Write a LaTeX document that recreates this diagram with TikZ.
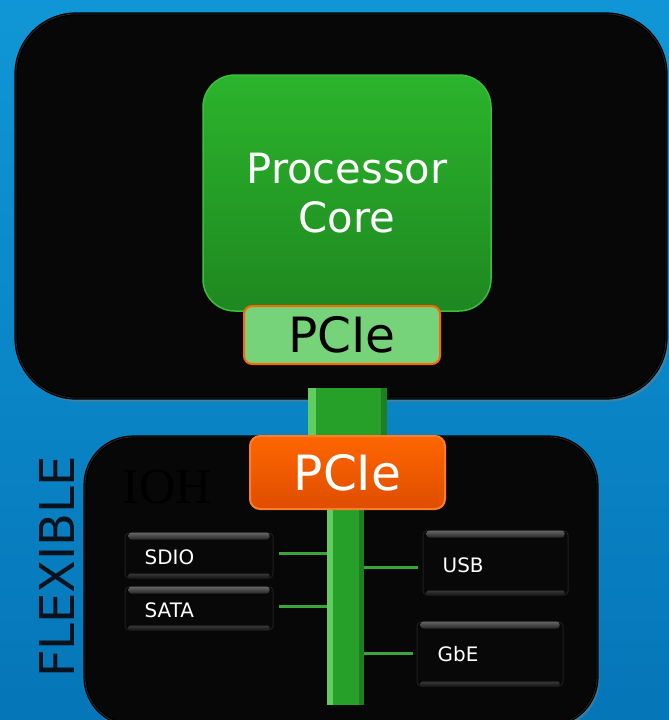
\documentclass[tikz,border=0pt]{standalone}
\usepackage{fontspec}
\setmainfont{DejaVu Sans}
\newfontfamily\ohface{Liberation Serif}
\usetikzlibrary{shadows}
\newlength\upx
\setlength\upx{0.03cm}
\definecolor{skyhi}{RGB}{16,150,214}
\definecolor{skylo}{RGB}{5,118,184}
\definecolor{panelfill}{RGB}{7,7,7}
\definecolor{panelrim}{RGB}{38,38,38}
\definecolor{coretop}{RGB}{44,180,44}
\definecolor{corebot}{RGB}{30,136,32}
\definecolor{coreedge}{RGB}{60,190,60}
\definecolor{pcielight}{RGB}{118,211,122}
\definecolor{pcieorange}{RGB}{255,102,0}
\definecolor{orangebot}{RGB}{222,78,0}
\definecolor{busgreen}{RGB}{38,160,40}
\definecolor{buslight}{RGB}{95,205,95}
\definecolor{busdark}{RGB}{28,128,30}
\definecolor{linkgreen}{RGB}{58,165,58}
\definecolor{captionink}{RGB}{8,18,28}
\begin{document}
\begin{tikzpicture}[x=0.03cm, y=-0.03cm,
  panel/.style={fill=panelfill, draw=black, line width=1.2\upx,
    double=panelrim, double distance=0.8\upx,
    drop shadow={opacity=0.45, shadow xshift=2pt, shadow yshift=-3pt}},
  corebox/.style={top color=coretop, bottom color=corebot, draw=coreedge,
    line width=1.5\upx, rounded corners=32\upx, text=white, align=center,
    font=\fontsize{35.6}{42}\selectfont},
  pciebox/.style={rounded corners=8\upx, line width=2\upx,
    font=\fontsize{41.5}{42}\selectfont},
  busbar/.style={fill=busgreen, inner sep=0pt},
  iobox/.style={fill=black!97, draw=black!88, line width=1\upx,
    rounded corners=4\upx, inner sep=0pt},
  iolabel/.style={anchor=west, inner sep=0pt, text=white,
    font=\fontsize{17}{17}\selectfont},
  link/.style={draw=linkgreen, line width=3\upx}]

% backdrop
\shade[top color=skyhi, bottom color=skylo] (0,0) rectangle (669,720);
\useasboundingbox (0,0) rectangle (669,720);

% processor panel
\node[panel, rounded corners=60\upx, minimum width=650\upx, minimum height=384\upx]
  (cpu) at (341,206) {};

% green bus trunk leaving the processor panel
\node[busbar, minimum width=79\upx, minimum height=82\upx] (trunk) at (347.5,429) {};
\fill[buslight] (trunk.north west) rectangle ([xshift=8\upx]trunk.south west);
\fill[busdark] ([xshift=-6\upx]trunk.north east) rectangle (trunk.south east);

% IO hub panel
\node[panel, rounded corners=48\upx, minimum width=512\upx, minimum height=288\upx]
  (ioh) at (341,581) {};
\node[font=\ohface\fontsize{43}{43}\selectfont, text=black] (iohname) at (167,487) {IOH};

% vertical bus inside the hub
\node[busbar, minimum width=37\upx, minimum height=205\upx] (bus) at (345.5,602.5) {};
\fill[buslight] (bus.north west) rectangle ([xshift=6\upx]bus.south west);
\fill[busdark] ([xshift=-5\upx]bus.north east) rectangle (bus.south east);

% processor core and its PCIe port
\node[corebox, minimum width=288\upx, minimum height=236\upx] (core) at (347,193)
  {Processor\\Core};
\node[pciebox, fill=pcielight, draw=pcieorange, text=black,
  minimum width=196\upx, minimum height=58\upx] (pcieup) at (342,335) {PCIe};

% hub PCIe port
\node[pciebox, rounded corners=10\upx, top color=pcieorange, bottom color=orangebot,
  draw=pcieorange!85!white, text=white,
  minimum width=195\upx, minimum height=73\upx] (pciedn) at (347.5,472.5) {PCIe};

% peripheral blocks
\node[iobox, minimum width=148\upx, minimum height=45\upx] (sdio) at (199,555.5) {};
\node[iobox, minimum width=148\upx, minimum height=43\upx] (sata) at (199,608.5) {};
\node[iobox, minimum width=145\upx, minimum height=64\upx] (usb) at (495.5,563) {};
\node[iobox, minimum width=146\upx, minimum height=64\upx] (gbe) at (490,654) {};

\foreach \n in {sdio,sata,usb,gbe} {
  \shade[top color=black!60, bottom color=black!85, rounded corners=3\upx]
    ([xshift=4\upx]\n.north west) rectangle ([shift={(-4,7)}]\n.north east);
  \shade[top color=black!78, bottom color=black!92, rounded corners=2\upx]
    ([shift={(4,-5)}]\n.south west) rectangle ([xshift=-4\upx]\n.south east);
}

\node[iolabel] (sdiot) at ([shift={(20,2)}]sdio.west) {SDIO};
\node[iolabel] (satat) at ([shift={(20,2)}]sata.west) {SATA};
\node[iolabel] (usbt) at ([shift={(20,2)}]usb.west) {USB};
\node[iolabel] (gbet) at ([shift={(21,0)}]gbe.west) {GbE};

% links from the bus to each block
\coordinate (lsdio) at ([shift={(5,-2.5)}]sdio.east);
\coordinate (lsata) at ([shift={(5,-2.5)}]sata.east);
\coordinate (lusb) at ([shift={(-5,4)}]usb.west);
\coordinate (lgbe) at ([shift={(-4,-1)}]gbe.west);
\draw[link] (lsdio) -- (lsdio -| bus.west);
\draw[link] (lsata) -- (lsata -| bus.west);
\draw[link] (lusb -| bus.east) -- (lusb);
\draw[link] (lgbe -| bus.east) -- (lgbe);

% side caption
\node[rotate=90, text=captionink, font=\fontsize{41}{41}\selectfont] (flex)
  at (57,567) {FLEXIBLE};
\end{tikzpicture}
\end{document}
